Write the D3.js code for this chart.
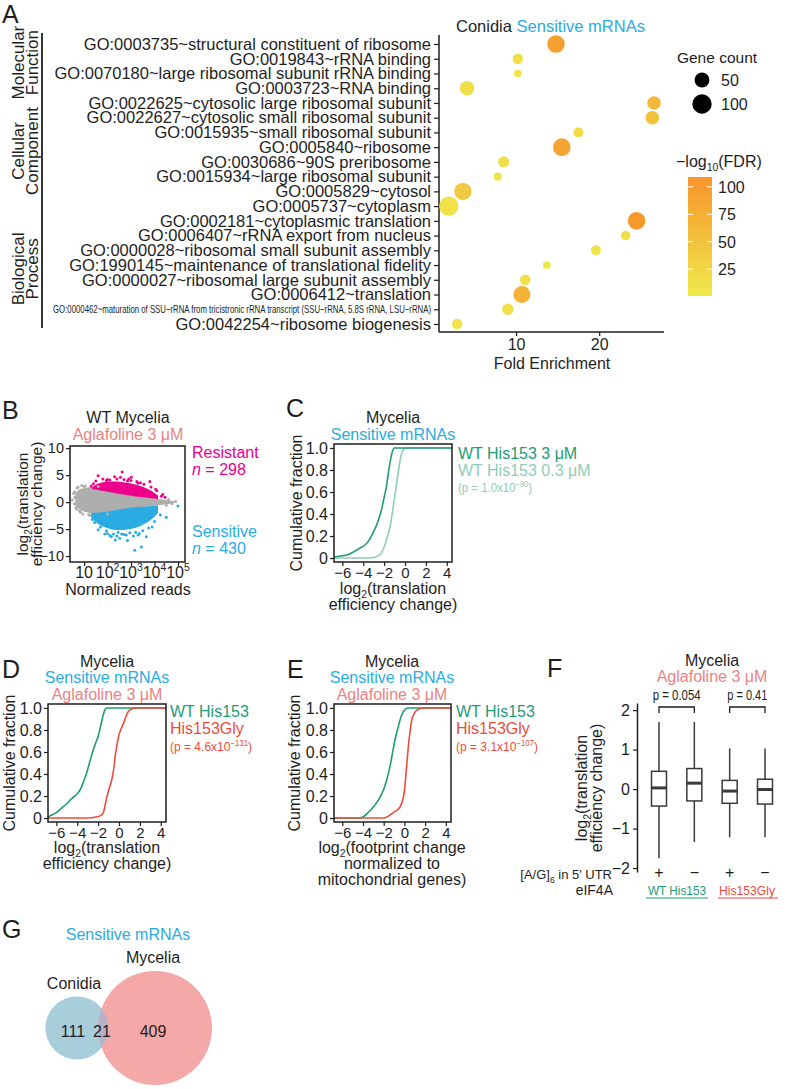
<!DOCTYPE html>
<html>
<head>
<meta charset="utf-8">
<script src="https://cdn.jsdelivr.net/npm/d3@7/dist/d3.min.js"></script>
<style>
  html,body{margin:0;padding:0;background:#fff;}
  svg{display:block;}
  text{font-family:"Liberation Sans",Arial,Helvetica,sans-serif;}
</style>
</head>
<body>
<svg id="fig" width="786" height="1089" xmlns="http://www.w3.org/2000/svg"></svg>
<script>
// ======================= DATA =======================
// Panel A: GO enrichment, Conidia sensitive mRNAs
const goTerms = [
  "GO:0003735~structural constituent of ribosome",
  "GO:0019843~rRNA binding",
  "GO:0070180~large ribosomal subunit rRNA binding",
  "GO:0003723~RNA binding",
  "GO:0022625~cytosolic large ribosomal subunit",
  "GO:0022627~cytosolic small ribosomal subunit",
  "GO:0015935~small ribosomal subunit",
  "GO:0005840~ribosome",
  "GO:0030686~90S preribosome",
  "GO:0015934~large ribosomal subunit",
  "GO:0005829~cytosol",
  "GO:0005737~cytoplasm",
  "GO:0002181~cytoplasmic translation",
  "GO:0006407~rRNA export from nucleus",
  "GO:0000028~ribosomal small subunit assembly",
  "GO:1990145~maintenance of translational fidelity",
  "GO:0000027~ribosomal large subunit assembly",
  "GO:0006412~translation",
  "GO:0000462~maturation of SSU\u2212rRNA from tricistronic rRNA transcript (SSU\u2212rRNA, 5.8S rRNA, LSU\u2212rRNA)",
  "GO:0042254~ribosome biogenesis"
];
const goFold  = [14.8, 10.2, 10.2, 4.1, 26.6, 26.4, 17.5, 15.5, 8.5, 7.8, 3.6, 1.9, 24.5, 23.2, 19.6, 13.7, 11.1, 10.7, 9.0, 2.9];
const goCount = [78, 17, 5, 47, 39, 39, 15, 78, 21, 7, 76, 100, 78, 13, 15, 6, 18, 71, 23, 18];
const goFDR   = [95, 12, 8, 15, 65, 50, 15, 90, 12, 8, 40, 10, 105, 12, 10, 5, 12, 70, 14, 10];
const goCategoryNames = [["Molecular","Function"],["Cellular","Component"],["Biological","Process"]];
const goCategoryRows  = [[0,3],[4,11],[12,19]];
const foldTicks = [10, 20];
const geneCountLegend = [50, 100];
const fdrLegendTicks = [25, 50, 75, 100];

// Panel B: MA-like scatter (log10 normalized reads vs log2 TE change)
const bXTicks = [1, 2, 3, 4, 5];
const bYTicks = [-10, -5, 0, 5, 10];
const greyLog10Reads = [0.62, 0.75, 0.9, 1.1, 1.3, 1.5, 1.8, 2.1, 2.5, 2.9, 3.3, 3.7, 4.1, 4.4, 4.7, 4.85];
const greyHigh       = [1.6, 2.3, 2.5, 2.7, 2.8, 2.8, 2.4, 2.0, 1.6, 1.3, 1.0, 0.8, 0.6, 0.45, 0.3, 0.1];
const greyLow        = [-0.6, -1.2, -1.6, -1.9, -2.1, -2.2, -2.0, -1.8, -1.5, -1.2, -1.0, -0.8, -0.6, -0.45, -0.3, -0.1];
const pinkLog10Reads = [1.35, 1.6, 1.9, 2.2, 2.5, 2.8, 3.1, 3.4, 3.7, 3.95, 4.15];
const pinkHigh       = [2.8, 3.5, 3.8, 3.8, 3.8, 3.6, 3.4, 3.0, 2.5, 1.9, 1.2];
const pinkLow        = [2.4, 2.3, 2.0, 1.8, 1.5, 1.3, 1.1, 0.95, 0.8, 0.65, 0.55];
const blueLog10Reads = [1.3, 1.5, 1.8, 2.1, 2.4, 2.7, 3.0, 3.3, 3.6, 3.9, 4.15];
const blueHigh       = [-2.0, -2.0, -1.9, -1.7, -1.4, -1.25, -1.05, -0.9, -0.8, -0.7, -0.6];
const blueLow        = [-2.8, -3.8, -4.6, -5.0, -5.2, -5.2, -5.0, -4.7, -4.0, -3.2, -2.0];
const greyDotReads = [0.55, 0.6, 0.58, 0.7, 0.65, 0.8, 1.0, 1.2, 4.6, 4.75, 4.9, 4.5, 1.6, 2.0, 0.6, 0.68, 0.75, 0.85, 0.95, 1.05, 1.25, 0.5, 0.72, 0.9];
const greyDotTE    = [1.6, 0.9, -0.3, 2.6, -1.0, -1.6, 2.9, -2.3, 0.5, -0.3, 0.1, -0.6, 2.9, -2.2, 1.9, -1.3, 2.8, -1.9, -2.2, 3.0, -2.5, 0.4, 1.2, 3.1];
const pinkDotReads = [1.6, 2.3, 2.62, 3.01, 3.8, 4.29, 1.4, 2.0, 3.4, 4.1, 4.45, 2.9, 1.5, 1.8, 2.1, 2.4, 2.7, 3.0, 3.25, 3.55, 3.85, 4.05, 1.3, 2.55, 4.35, 1.95, 2.85, 3.3];
const pinkDotTE    = [4.9, 4.7, 5.6, 4.6, 3.8, 1.1, 3.4, 4.2, 3.6, 2.1, 0.9, 4.3, 3.9, 4.3, 4.1, 4.3, 4.2, 4.0, 3.8, 3.3, 2.8, 2.4, 3.0, 4.6, 1.4, 4.0, 3.9, 3.5];
const blueDotReads = [2.16, 1.88, 2.33, 2.8, 3.16, 3.44, 3.65, 4.5, 5.0, 3.3, 1.6, 2.52, 3.9, 4.25, 1.45, 2.6, 3.1, 2.0, 1.7, 1.95, 2.25, 2.45, 2.7, 2.95, 3.2, 3.5, 3.75, 4.0, 1.35, 2.1, 2.85, 3.35, 2.4];
const blueDotTE    = [-6.4, -5.9, -7.0, -6.1, -8.9, -8.3, -6.4, -2.8, -0.7, -6.1, -5.1, -6.7, -4.6, -2.4, -3.8, -5.9, -6.3, -5.8, -4.6, -5.3, -5.9, -5.6, -6.0, -5.7, -5.6, -5.3, -4.8, -3.6, -3.2, -6.2, -7.1, -5.8, -6.3];

// CDF panels
const cdfXTicks = [-6, -4, -2, 0, 2, 4];
const cdfYTicks = [0, 0.2, 0.4, 0.6, 0.8, 1.0];
const cWt3X  = [-6.8, -6.0, -5.5, -4.5, -3.6, -3.0, -2.6, -2.3, -2.0, -1.8, -1.55, -1.35, -1.2, -1.05, 4.5];
const cWt3Y  = [0.01, 0.02, 0.03, 0.08, 0.14, 0.24, 0.33, 0.42, 0.55, 0.64, 0.80, 0.91, 0.97, 1.0, 1.0];
const cWt03X = [-6.8, -3.5, -2.8, -2.3, -2.0, -1.7, -1.4, -1.2, -1.0, -0.75, -0.55, -0.35, -0.1, 0.1, 4.5];
const cWt03Y = [0.0, 0.0, 0.01, 0.04, 0.10, 0.19, 0.30, 0.42, 0.55, 0.71, 0.84, 0.94, 0.99, 1.0, 1.0];
const dWtX  = [-6.8, -6.6, -6.0, -5.5, -5.0, -4.5, -4.0, -3.7, -3.4, -3.1, -2.8, -2.5, -2.2, -2.0, -1.75, -1.5, -1.3, -1.15, 4.5];
const dWtY  = [0.01, 0.02, 0.05, 0.09, 0.13, 0.18, 0.22, 0.26, 0.33, 0.41, 0.51, 0.61, 0.69, 0.74, 0.84, 0.94, 0.99, 1.0, 1.0];
const dGlyX = [-6.8, -3.0, -2.2, -1.8, -1.5, -1.17, -0.9, -0.69, -0.5, -0.37, -0.2, -0.05, 0.2, 0.43, 0.7, 0.91, 1.2, 1.5, 4.5];
const dGlyY = [0.0, 0.0, 0.01, 0.02, 0.05, 0.19, 0.28, 0.35, 0.45, 0.56, 0.66, 0.74, 0.81, 0.86, 0.93, 0.97, 0.99, 1.0, 1.0];
const eWtX  = [-6.8, -4.5, -4.0, -3.5, -3.0, -2.68, -2.3, -2.04, -1.7, -1.39, -1.15, -0.91, -0.65, -0.42, -0.2, 0.0, 0.37, 4.5];
const eWtY  = [0, 0, 0.01, 0.05, 0.10, 0.14, 0.20, 0.25, 0.35, 0.47, 0.59, 0.71, 0.81, 0.89, 0.95, 0.98, 1.0, 1.0];
const eGlyX = [-6.8, -2.0, -1.07, -0.42, -0.1, 0.05, 0.16, 0.27, 0.38, 0.55, 0.71, 0.95, 1.2, 1.85, 4.5];
const eGlyY = [0, 0, 0.05, 0.10, 0.19, 0.29, 0.41, 0.53, 0.65, 0.79, 0.89, 0.95, 0.98, 1.0, 1.0];

// Panel F: boxplots
const fGroups      = ["WT+", "WT\u2212", "Gly+", "Gly\u2212"];
const fMotif       = ["+", "\u2212", "+", "\u2212"];
const fWhiskerLow  = [-1.75, -1.34, -1.22, -1.22];
const fQ1          = [-0.43, -0.30, -0.36, -0.38];
const fMedian      = [0.03, 0.15, -0.05, -0.01];
const fQ3          = [0.45, 0.52, 0.22, 0.25];
const fWhiskerHigh = [1.70, 1.70, 1.03, 1.03];
const fYTicks      = [-2, -1, 0, 1, 2];
const fPvalues     = ["p = 0.054", "p = 0.41"];
const fPairs       = [[0, 1], [2, 3]];

// Panel G: Venn
const vennNames  = ["Conidia", "Mycelia"];
const vennOnly   = [111, 409];
const vennShared = 21;

// ======================= DRAW =======================
const FONT = "'Liberation Sans', Arial, Helvetica, sans-serif";
const INK = "#1e1e1e";
const BLUE = "#2AACE2", SALMON = "#EA8383", MAGENTA = "#EC008C";
const GREEN = "#1E9C76", LGREEN = "#8ECDB6", RED = "#EE4B3B";
const svg = d3.select("#fig");
svg.append("rect").attr("width", 786).attr("height", 1089).attr("fill", "#fff");

function rich(parent, x, y, parts, o = {}) {
  const size = o.size || 16;
  const t = parent.append("text").attr("x", x).attr("y", y)
    .attr("font-size", size).attr("fill", o.fill || INK)
    .attr("text-anchor", o.anchor || "start");
  if (o.transform) t.attr("transform", o.transform);
  if (o.len) t.attr("textLength", o.len).attr("lengthAdjust", "spacingAndGlyphs");
  let shift = 0;
  parts.forEach(p => {
    const s = typeof p === "string" ? { t: p } : p;
    const target = s.sub ? 0.28 : s.sup ? -0.42 : 0;
    const fs = (s.sub || s.sup) ? size * 0.65 : size;
    const ts = t.append("tspan").text(s.t).attr("font-size", fs).attr("dy", (target - shift) * size);
    if (s.fill) ts.attr("fill", s.fill);
    if (s.italic) ts.attr("font-style", "italic");
    shift = target;
  });
  return t;
}
function txt(x, y, s, o = {}) { return rich(svg, x, y, [s], o); }
function rot(x, y, parts, o = {}) {
  return rich(svg, 0, 0, parts, Object.assign({ anchor: "middle", transform: `translate(${x},${y}) rotate(-90)` }, o));
}
function styleAxis(g, size) {
  g.attr("font-family", FONT).attr("font-size", size);
  g.selectAll("text").attr("fill", INK);
  g.selectAll("line").attr("stroke", INK).attr("stroke-width", 1.2);
  g.selectAll(".domain").attr("stroke", INK).attr("stroke-width", 1.5);
}
const letter = (x, y, s) => txt(x, y, s, { size: 25 });

// ---------------- Panel A ----------------
letter(2, 23, "A");
const yA = d3.scalePoint().domain(goTerms).range([44, 324]);
const xA = d3.scaleLinear().domain([0.72, 27.8]).range([439, 664]);
const rA = d3.scaleSqrt().domain([0, 100]).range([2, 9.7]);
const cA = d3.scaleLinear().domain([0.5, 109]).range(["#EFE94B", "#F7952C"]);

const axA = svg.append("g").attr("transform", "translate(439,0)")
  .call(d3.axisLeft(yA).tickSize(5).tickPadding(3));
axA.select(".domain").remove();
styleAxis(axA, 16.5);
axA.selectAll(".tick text").filter((d, i) => i === 18)
  .attr("font-size", 11).attr("textLength", 378).attr("lengthAdjust", "spacingAndGlyphs");
svg.append("line").attr("x1", 439).attr("x2", 439).attr("y1", 35).attr("y2", 332).attr("stroke", INK).attr("stroke-width", 1.5);
svg.append("line").attr("x1", 439).attr("x2", 664).attr("y1", 332).attr("y2", 332).attr("stroke", INK).attr("stroke-width", 1.5);
const axAx = svg.append("g").attr("transform", "translate(0,332)")
  .call(d3.axisBottom(xA).tickValues(foldTicks).tickSize(4).tickPadding(3));
axAx.select(".domain").remove();
styleAxis(axAx, 16);
txt(552, 369, "Fold Enrichment", { anchor: "middle" });

// category brackets
goCategoryRows.forEach((r, i) => {
  const y1 = yA(goTerms[r[0]]) - 11, y2 = yA(goTerms[r[1]]) + 4;
  svg.append("line").attr("x1", 42).attr("x2", 42).attr("y1", y1).attr("y2", y2).attr("stroke", INK).attr("stroke-width", 1.8);
  const cy = (y1 + y2) / 2;
  rot(24, cy, [goCategoryNames[i][0]], { size: 17 });
  rot(38, cy, [goCategoryNames[i][1]], { size: 17 });
});

// bubbles
svg.append("g").selectAll("circle").data(goTerms).join("circle")
  .attr("cx", (d, i) => xA(goFold[i]))
  .attr("cy", d => yA(d))
  .attr("r", (d, i) => rA(goCount[i]))
  .attr("fill", (d, i) => cA(goFDR[i]));

// title
rich(svg, 456, 32, ["Conidia ", { t: "Sensitive mRNAs", fill: BLUE }], { size: 16.5 });

// size legend
txt(717, 63, "Gene count", { anchor: "middle", size: 15.5 });
const legY = d3.scalePoint().domain(geneCountLegend).range([80, 104]);
geneCountLegend.forEach(v => {
  svg.append("circle").attr("cx", 702).attr("cy", legY(v)).attr("r", rA(v)).attr("fill", "#000");
  txt(721, legY(v) + 6, String(v), { size: 16 });
});

// colour legend
rich(svg, 676, 167, ["\u2212log", { t: "10", sub: true }, "(FDR)"], { size: 16 });
const yCol = d3.scaleLinear().domain([0.5, 109]).range([296, 177]);
const defs = svg.append("defs");
const grad = defs.append("linearGradient").attr("id", "fdrGrad").attr("x1", 0).attr("y1", 1).attr("x2", 0).attr("y2", 0);
d3.range(0, 1.0001, 0.1).forEach(t => {
  grad.append("stop").attr("offset", t).attr("stop-color", cA(0.5 + t * 108.5));
});
svg.append("rect").attr("x", 688).attr("y", 177).attr("width", 24).attr("height", 119).attr("fill", "url(#fdrGrad)");
fdrLegendTicks.forEach(v => {
  const y = yCol(v);
  svg.append("line").attr("x1", 688).attr("x2", 693).attr("y1", y).attr("y2", y).attr("stroke", "#fff").attr("stroke-width", 1);
  svg.append("line").attr("x1", 707).attr("x2", 712).attr("y1", y).attr("y2", y).attr("stroke", "#fff").attr("stroke-width", 1);
  txt(718, y + 6, String(v), { size: 16 });
});

// ---------------- Panel B ----------------
letter(2, 419, "B");
txt(128, 423, "WT Mycelia", { anchor: "middle" });
txt(128, 440, "Aglafoline 3 \u03bcM", { anchor: "middle", fill: SALMON });
const xB = d3.scaleLinear().domain([0.4, 5.3]).range([70, 185]);
const yB = d3.scaleLinear().domain([-11.1, 10.4]).range([562, 446]);
const areaB = d3.area().x(d => xB(d[0])).y0(d => yB(d[1])).y1(d => yB(d[2])).curve(d3.curveBasis);
const zip3 = (a, b, c) => a.map((v, i) => [v, b[i], c[i]]);
svg.append("path").attr("d", areaB(zip3(greyLog10Reads, greyLow, greyHigh))).attr("fill", "#AEAEAE");
svg.append("path").attr("d", areaB(zip3(pinkLog10Reads, pinkLow, pinkHigh))).attr("fill", MAGENTA);
svg.append("path").attr("d", areaB(zip3(blueLog10Reads, blueLow, blueHigh))).attr("fill", BLUE);
const dots = (xs, ys, col) => svg.append("g").selectAll("circle").data(xs).join("circle")
  .attr("cx", d => xB(d)).attr("cy", (d, i) => yB(ys[i])).attr("r", 1.5).attr("fill", col);
dots(greyDotReads, greyDotTE, "#AEAEAE");
dots(pinkDotReads, pinkDotTE, MAGENTA);
dots(blueDotReads, blueDotTE, BLUE);
svg.append("rect").attr("x", 70).attr("y", 446).attr("width", 115).attr("height", 116).attr("fill", "none").attr("stroke", INK).attr("stroke-width", 1.5);
const axBy = svg.append("g").attr("transform", "translate(70,0)")
  .call(d3.axisLeft(yB).tickValues(bYTicks).tickSize(4).tickPadding(2).tickFormat(d3.format("d")));
axBy.select(".domain").remove();
styleAxis(axBy, 14.5);
const axBx = svg.append("g").attr("transform", "translate(0,562)")
  .call(d3.axisBottom(xB).tickValues(bXTicks).tickSize(4).tickFormat(""));
axBx.select(".domain").remove();
styleAxis(axBx, 16);
bXTicks.forEach(v => {
  const parts = v === 1 ? ["10"] : ["10", { t: String(v), sup: true }];
  rich(svg, xB(v), 578, parts, { anchor: "middle", size: 16 });
});
txt(128, 595, "Normalized reads", { anchor: "middle" });
rot(28, 504, ["log", { t: "2", sub: true }, "(translation"], { size: 15.5 });
rot(42, 504, ["efficiency change)"], { size: 15.5 });
txt(192, 458, "Resistant", { fill: MAGENTA });
rich(svg, 192, 475, [{ t: "n", italic: true }, " = 298"], { fill: MAGENTA });
txt(192, 537, "Sensitive", { fill: BLUE });
rich(svg, 192, 554, [{ t: "n", italic: true }, " = 430"], { fill: BLUE });

// ---------------- CDF panels ----------------
function cdfPanel(x0, x1, y0, y1, series) {
  const x = d3.scaleLinear().domain([-6.8, 4.5]).range([x0, x1]);
  const y = d3.scaleLinear().domain([-0.036, 1.036]).range([y1, y0]);
  const line = d3.line().x(d => x(d[0])).y(d => y(d[1])).curve(d3.curveMonotoneX);
  series.forEach(s => {
    svg.append("path").attr("d", line(s.x.map((v, i) => [v, s.y[i]])))
      .attr("fill", "none").attr("stroke", s.color).attr("stroke-width", 1.6);
  });
  svg.append("rect").attr("x", x0).attr("y", y0).attr("width", x1 - x0).attr("height", y1 - y0)
    .attr("fill", "none").attr("stroke", INK).attr("stroke-width", 1.5);
  const ay = svg.append("g").attr("transform", `translate(${x0},0)`)
    .call(d3.axisLeft(y).tickValues(cdfYTicks).tickSize(4).tickPadding(2)
      .tickFormat(d => d === 0 ? "0" : d3.format(".1f")(d)));
  ay.select(".domain").remove();
  styleAxis(ay, 16);
  const ax = svg.append("g").attr("transform", `translate(0,${y1})`)
    .call(d3.axisBottom(x).tickValues(cdfXTicks).tickSize(4).tickPadding(1));
  ax.select(".domain").remove();
  styleAxis(ax, 15);
}

// Panel C
letter(286, 417, "C");
txt(393, 423, "Mycelia", { anchor: "middle" });
txt(393, 440, "Sensitive mRNAs", { anchor: "middle", fill: BLUE });
cdfPanel(334, 452, 444, 562, [
  { x: cWt03X, y: cWt03Y, color: LGREEN },
  { x: cWt3X, y: cWt3Y, color: GREEN }
]);
rot(302, 503, ["Cumulative fraction"]);
rich(svg, 393, 594, ["log", { t: "2", sub: true }, "(translation"], { anchor: "middle" });
txt(393, 610, "efficiency change)", { anchor: "middle" });
txt(458, 459, "WT His153 3 \u03bcM", { fill: GREEN });
txt(458, 476, "WT His153 0.3 \u03bcM", { fill: LGREEN });
rich(svg, 458, 492, ["(p = 1.0x10", { t: "\u221290", sup: true }, ")"], { fill: LGREEN, size: 13, len: 74 });

// Panel D
letter(2, 678, "D");
txt(107, 667, "Mycelia", { anchor: "middle" });
txt(107, 683, "Sensitive mRNAs", { anchor: "middle", fill: BLUE });
txt(107, 700, "Aglafoline 3 \u03bcM", { anchor: "middle", fill: SALMON });
cdfPanel(48, 166, 704, 822, [
  { x: dWtX, y: dWtY, color: GREEN },
  { x: dGlyX, y: dGlyY, color: RED }
]);
rot(15, 763, ["Cumulative fraction"]);
rich(svg, 107, 853, ["log", { t: "2", sub: true }, "(translation"], { anchor: "middle" });
txt(107, 869, "efficiency change)", { anchor: "middle" });
txt(170, 717, "WT His153", { fill: GREEN });
txt(170, 734, "His153Gly", { fill: RED });
rich(svg, 170, 751, ["(p = 4.6x10", { t: "\u2212131", sup: true }, ")"], { fill: RED, size: 13, len: 82 });

// Panel E
letter(287, 678, "E");
txt(392, 667, "Mycelia", { anchor: "middle" });
txt(392, 683, "Sensitive mRNAs", { anchor: "middle", fill: BLUE });
txt(392, 700, "Aglafoline 3 \u03bcM", { anchor: "middle", fill: SALMON });
cdfPanel(334, 451, 704, 822, [
  { x: eWtX, y: eWtY, color: GREEN },
  { x: eGlyX, y: eGlyY, color: RED }
]);
rot(300, 763, ["Cumulative fraction"]);
rich(svg, 392, 853, ["log", { t: "2", sub: true }, "(footprint change"], { anchor: "middle" });
txt(392, 869, "normalized to", { anchor: "middle" });
txt(392, 885, "mitochondrial genes)", { anchor: "middle" });
txt(456, 717, "WT His153", { fill: GREEN });
txt(456, 734, "His153Gly", { fill: RED });
rich(svg, 456, 751, ["(p = 3.1x10", { t: "\u2212107", sup: true }, ")"], { fill: RED, size: 13, len: 82 });

// ---------------- Panel F ----------------
letter(547, 677, "F");
txt(712, 666, "Mycelia", { anchor: "middle" });
txt(712, 682, "Aglafoline 3 \u03bcM", { anchor: "middle", fill: SALMON });
const yF = d3.scaleLinear().domain([-2.1, 2.18]).range([872, 703]);
const xF = d3.scalePoint().domain(fGroups).range([659, 765]);
const axF = svg.append("g").attr("transform", "translate(637,0)")
  .call(d3.axisLeft(yF).tickValues(fYTicks).tickSize(4).tickPadding(3).tickSizeOuter(0).tickFormat(d3.format("d")));
styleAxis(axF, 16);
const BOXC = "#3a3a3a", hw = 7.5;
fGroups.forEach((g, i) => {
  const cx = xF(g);
  svg.append("line").attr("x1", cx).attr("x2", cx).attr("y1", yF(fWhiskerHigh[i])).attr("y2", yF(fWhiskerLow[i]))
    .attr("stroke", BOXC).attr("stroke-width", 1.5);
  svg.append("rect").attr("x", cx - hw).attr("width", 2 * hw)
    .attr("y", yF(fQ3[i])).attr("height", yF(fQ1[i]) - yF(fQ3[i]))
    .attr("fill", "#fff").attr("stroke", BOXC).attr("stroke-width", 1.5);
  svg.append("line").attr("x1", cx - hw).attr("x2", cx + hw).attr("y1", yF(fMedian[i])).attr("y2", yF(fMedian[i]))
    .attr("stroke", BOXC).attr("stroke-width", 3);
  txt(cx, 878, fMotif[i], { anchor: "middle" });
});
fPairs.forEach((p, k) => {
  const a = xF(fGroups[p[0]]), b = xF(fGroups[p[1]]);
  svg.append("path").attr("d", `M${a},713V707H${b}V713`).attr("fill", "none").attr("stroke", INK).attr("stroke-width", 1.3);
  txt((a + b) / 2, 700, fPvalues[k], { anchor: "middle", size: 15, len: k === 0 ? 48 : 40 });
});
rot(587, 788, ["log", { t: "2", sub: true }, "(translation"]);
rot(602, 788, ["efficiency change)"]);
rich(svg, 612, 879, ["[A/G]", { t: "6", sub: true }, " in 5\u2032 UTR"], { anchor: "end", size: 13 });
txt(613, 895, "eIF4A", { anchor: "end", size: 14 });
txt(677, 895, "WT His153", { anchor: "middle", size: 13, fill: GREEN, len: 58 });
txt(747, 895, "His153Gly", { anchor: "middle", size: 13, fill: RED, len: 56 });
svg.append("line").attr("x1", 646).attr("x2", 708).attr("y1", 898).attr("y2", 898).attr("stroke", GREEN).attr("stroke-width", 1);
svg.append("line").attr("x1", 718).attr("x2", 778).attr("y1", 898).attr("y2", 898).attr("stroke", RED).attr("stroke-width", 1);

// ---------------- Panel G ----------------
letter(2, 938, "G");
txt(128, 940, "Sensitive mRNAs", { anchor: "middle", fill: BLUE });
const vennTotals = [vennOnly[0] + vennShared, vennOnly[1] + vennShared];
const rV = d3.scaleSqrt().domain([0, d3.max(vennTotals)]).range([0, 57]);
const vx = d3.scalePoint().domain(vennNames).range([77, 155]);
const vy = 1028;
defs.append("clipPath").attr("id", "vennClip").append("circle")
  .attr("cx", vx(vennNames[0])).attr("cy", vy).attr("r", rV(vennTotals[0]));
svg.append("circle").attr("cx", vx(vennNames[0])).attr("cy", vy).attr("r", rV(vennTotals[0])).attr("fill", "#A8CEDC");
svg.append("circle").attr("cx", vx(vennNames[1])).attr("cy", vy).attr("r", rV(vennTotals[1])).attr("fill", "#F5A8A8");
svg.append("circle").attr("cx", vx(vennNames[1])).attr("cy", vy).attr("r", rV(vennTotals[1])).attr("fill", "#B8B2C6")
  .attr("clip-path", "url(#vennClip)");
txt(74, 989, vennNames[0], { anchor: "middle" });
txt(153, 963, vennNames[1], { anchor: "middle" });
txt(73, 1037, String(vennOnly[0]), { anchor: "middle" });
txt(102, 1037, String(vennShared), { anchor: "middle" });
txt(153, 1037, String(vennOnly[1]), { anchor: "middle" });
</script>
</body>
</html>
